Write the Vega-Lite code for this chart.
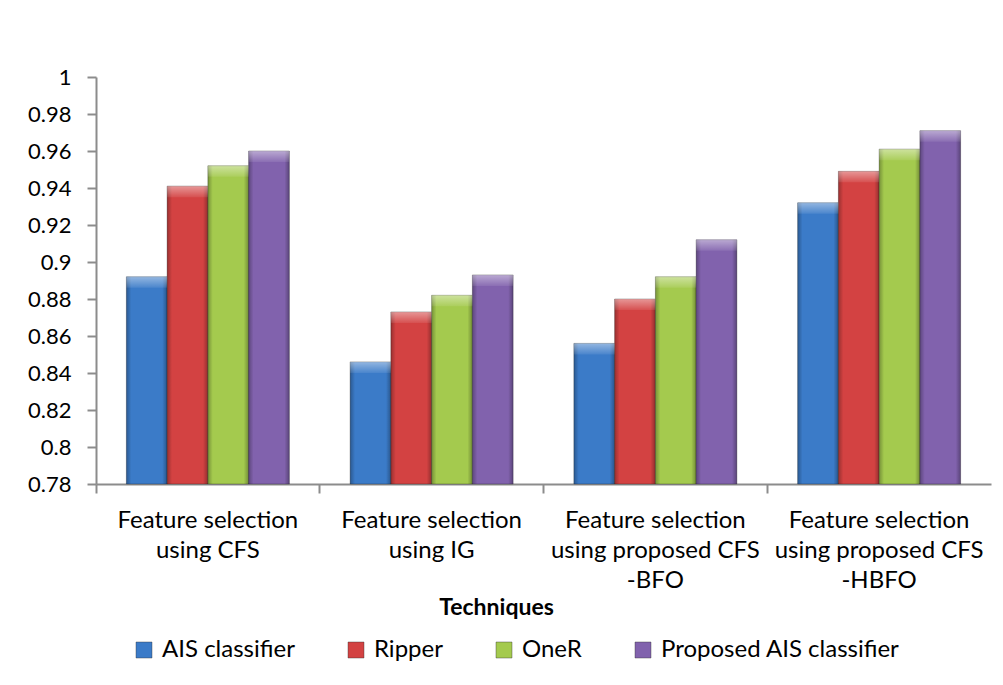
{
  "$schema": "https://vega.github.io/schema/vega-lite/v6.json",
  "width": 895,
  "height": 407,
  "autosize": {"type": "none"},
  "padding": {"left": 96, "top": 77, "right": 12, "bottom": 201},
  "background": "white",
  "data": {
    "values": [
      {"technique": "Feature selection using CFS", "classifier": "AIS classifier", "value": 0.892},
      {"technique": "Feature selection using CFS", "classifier": "Ripper", "value": 0.941},
      {"technique": "Feature selection using CFS", "classifier": "OneR", "value": 0.952},
      {"technique": "Feature selection using CFS", "classifier": "Proposed AIS classifier", "value": 0.96},
      {"technique": "Feature selection using IG", "classifier": "AIS classifier", "value": 0.846},
      {"technique": "Feature selection using IG", "classifier": "Ripper", "value": 0.873},
      {"technique": "Feature selection using IG", "classifier": "OneR", "value": 0.882},
      {"technique": "Feature selection using IG", "classifier": "Proposed AIS classifier", "value": 0.893},
      {"technique": "Feature selection using proposed CFS-BFO", "classifier": "AIS classifier", "value": 0.856},
      {"technique": "Feature selection using proposed CFS-BFO", "classifier": "Ripper", "value": 0.88},
      {"technique": "Feature selection using proposed CFS-BFO", "classifier": "OneR", "value": 0.892},
      {"technique": "Feature selection using proposed CFS-BFO", "classifier": "Proposed AIS classifier", "value": 0.912},
      {"technique": "Feature selection using proposed CFS-HBFO", "classifier": "AIS classifier", "value": 0.932},
      {"technique": "Feature selection using proposed CFS-HBFO", "classifier": "Ripper", "value": 0.949},
      {"technique": "Feature selection using proposed CFS-HBFO", "classifier": "OneR", "value": 0.961},
      {"technique": "Feature selection using proposed CFS-HBFO", "classifier": "Proposed AIS classifier", "value": 0.971}
    ]
  },
  "encoding": {
    "x": {
      "field": "technique",
      "type": "nominal",
      "sort": null,
      "scale": {"paddingInner": 0.2715, "paddingOuter": 0.1357},
      "axis": {
        "title": "Techniques",
        "titleFont": "Lato",
        "titleFontSize": 23,
        "titleFontWeight": "bold",
        "titleColor": "#000000",
        "titleX": 400,
        "titleY": 123,
        "titleBaseline": "middle",
        "titleAnchor": "middle",
        "labelAngle": 0,
        "labelFont": "Lato",
        "labelFontSize": 24,
        "labelColor": "#000000",
        "labelPadding": 15,
        "labelLineHeight": 30,
        "labelBaseline": "top",
        "labelLimit": 300,
        "labelExpr": "datum.value == 'Feature selection using CFS' ? ['Feature selection', 'using CFS'] : datum.value == 'Feature selection using IG' ? ['Feature selection', 'using IG'] : datum.value == 'Feature selection using proposed CFS-BFO' ? ['Feature selection', 'using proposed CFS', '-BFO'] : ['Feature selection', 'using proposed CFS', '-HBFO']",
        "bandPosition": -0.186,
        "tickSize": 9,
        "tickWidth": 2,
        "tickColor": "#8c8c8c",
        "domainColor": "#8c8c8c",
        "domainWidth": 2,
        "grid": false
      }
    },
    "xOffset": {"field": "classifier", "type": "nominal", "sort": ["AIS classifier", "Ripper", "OneR", "Proposed AIS classifier"], "scale": {"paddingInner": 0, "paddingOuter": 0}},
    "y": {
      "field": "value",
      "type": "quantitative",
      "scale": {"domain": [0.78, 1], "nice": false, "zero": false},
      "axis": {
        "title": null,
        "values": [0.78, 0.8, 0.82, 0.84, 0.86, 0.88, 0.9, 0.92, 0.94, 0.96, 0.98, 1],
        "format": "~g",
        "labelFont": "Lato",
        "labelFontSize": 22,
        "labelColor": "#000000",
        "labelPadding": 16,
        "tickSize": 9,
        "tickWidth": 2,
        "tickColor": "#8c8c8c",
        "domainColor": "#8c8c8c",
        "domainWidth": 2,
        "grid": false
      }
    }
  },
  "layer": [
    {
      "mark": {"type": "bar", "stroke": "#1a1a1a", "strokeOpacity": 0.3, "strokeWidth": 1},
      "encoding": {
        "y2": {"datum": 0.78},
        "color": {
          "field": "classifier",
          "type": "nominal",
          "sort": ["AIS classifier", "Ripper", "OneR", "Proposed AIS classifier"],
          "scale": {
            "domain": ["AIS classifier", "Ripper", "OneR", "Proposed AIS classifier"],
            "range": ["#3b7bc8", "#d34242", "#a4ca4e", "#8162ad"]
          },
          "legend": {
            "title": null,
            "orient": "none",
            "direction": "horizontal",
            "legendX": 36,
            "legendY": 561,
            "padding": 0,
            "symbolType": "square",
            "symbolSize": 256,
            "symbolStrokeWidth": 1,
            "symbolStrokeColor": "#33333366",
            "labelFont": "Lato",
            "labelFontSize": 24,
            "labelColor": "#000000",
            "labelOffset": 6,
            "columnPadding": 49,
            "labelLimit": 400
          }
        }
      }
    },
    {
      "mark": {
        "type": "bar",
        "color": {
          "gradient": "linear",
          "x1": 0, "y1": 0, "x2": 1, "y2": 0,
          "stops": [
            {"offset": 0, "color": "rgba(0,0,0,0.28)"},
            {"offset": 0.12, "color": "rgba(0,0,0,0)"},
            {"offset": 0.88, "color": "rgba(0,0,0,0)"},
            {"offset": 1, "color": "rgba(0,0,0,0.3)"}
          ]
        }
      },
      "encoding": {"y2": {"datum": 0.78}}
    },
    {
      "mark": {
        "type": "bar",
        "y2Offset": 11,
        "color": {
          "gradient": "linear",
          "x1": 0, "y1": 0, "x2": 0, "y2": 1,
          "stops": [
            {"offset": 0, "color": "rgba(255,255,255,0.45)"},
            {"offset": 1, "color": "rgba(255,255,255,0.08)"}
          ]
        }
      },
      "encoding": {"y2": {"field": "value"}}
    }
  ],
  "config": {"view": {"stroke": null}}
}
